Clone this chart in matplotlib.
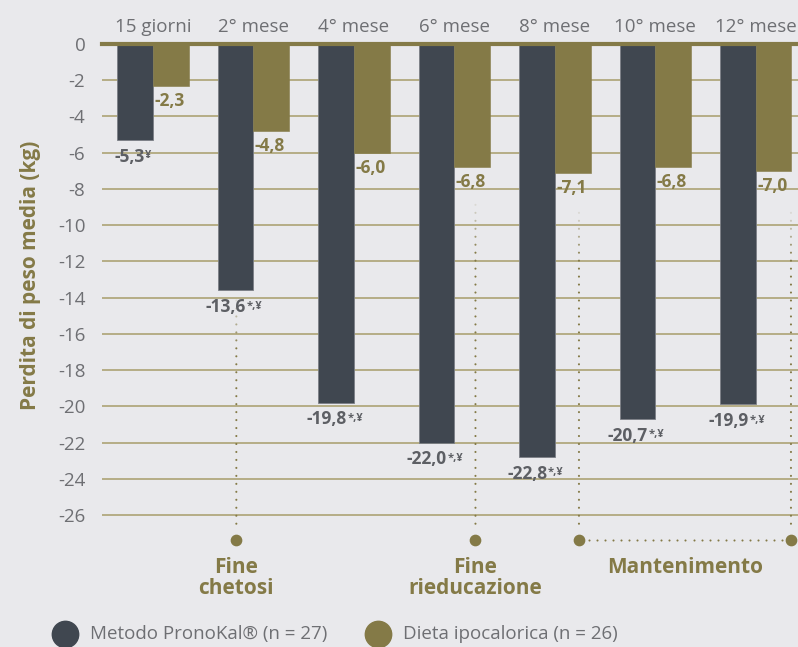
import numpy as np
import matplotlib.pyplot as plt
from matplotlib.lines import Line2D

plt.rcParams['font.family'] = ['Open Sans', 'DejaVu Sans']
plt.rcParams['axes.unicode_minus'] = False

# ---- data ----
periods = ["15 giorni", "2° mese", "4° mese", "6° mese", "8° mese", "10° mese", "12° mese"]
pronokal = [-5.3, -13.6, -19.8, -22.0, -22.8, -20.7, -19.9]
ipocalorica = [-2.3, -4.8, -6.0, -6.8, -7.1, -6.8, -7.0]
pronokal_marks = ["¥", "*,¥", "*,¥", "*,¥", "*,¥", "*,¥", "*,¥"]
y_ticks = list(range(0, -27, -2))

# phase markers: (x position, top of dotted line)
phase_lines = [(0.83, -13.8), (3.21, -8.6), (4.24, -9.3), (6.35, -9.3)]
phase_labels = [("Fine\nchetosi", 0.83), ("Fine\nrieducazione", 3.21), ("Mantenimento", 5.295)]

# ---- style ----
BG = "#e9e9ec"
DARK = "#404750"
GOLD = "#847a47"
GRID = "#b1a87e"
GREY = "#6e6f73"
GREY_LBL = "#5d5f64"

fig = plt.figure(figsize=(7.98, 6.47), dpi=100, facecolor=BG)
ax = fig.add_axes([102 / 798, 1 - 540 / 647, 696 / 798, 496 / 647])
ax.set_facecolor(BG)

x = np.arange(len(periods))
w = 0.355
y_bottom = -27.38

# gridlines
for t in y_ticks[1:]:
    ax.axhline(t, color=GRID, lw=1.3, zorder=1)

ax.bar(x - w / 2, pronokal, w, color=DARK, edgecolor="#7b7f86", linewidth=0.6, zorder=2)
ax.bar(x + w / 2, ipocalorica, w, color=GOLD, edgecolor=GOLD, linewidth=0.4, zorder=2)

# zero line
ax.axhline(0, color=GOLD, lw=3, zorder=4, clip_on=False)

# axes
ax.set_xlim(-0.507, 6.42)
ax.set_ylim(y_bottom, 0)
ax.set_yticks(y_ticks)
ax.set_yticklabels([str(t) for t in y_ticks], fontsize=13.5, color=GREY)
ax.tick_params(axis="y", length=0, pad=12)
ax.xaxis.tick_top()
ax.set_xticks(x)
ax.set_xticklabels(periods, fontsize=13.5, color=GREY)
ax.tick_params(axis="x", length=0, pad=6)
for s in ax.spines.values():
    s.set_visible(False)

# value labels (main number + small superscript marks)
renderer = fig.canvas.get_renderer()
for xi, v, m in zip(x, pronokal, pronokal_marks):
    shift = -4 if len(m) == 1 else -7
    main = ax.annotate(f"{v:.1f}".replace(".", ","), (xi - w / 2, v),
                       xytext=(shift, -12), textcoords="offset points",
                       ha="center", va="center", fontsize=12.5, fontweight="bold",
                       color=GREY_LBL, zorder=6)
    bb = main.get_window_extent(renderer)
    fig.text(bb.x1 / fig.bbox.width + 0.001, bb.y1 / fig.bbox.height - 0.004, m,
             ha="left", va="top", fontsize=8, fontweight="bold", color=GREY_LBL,
             zorder=6)
for xi, v in zip(x, ipocalorica):
    ax.annotate(f"{v:.1f}".replace(".", ","), (xi, v), xytext=(1, -11),
                textcoords="offset points", ha="left", va="center",
                fontsize=12.5, fontweight="bold", color=GOLD, zorder=6)

# dotted phase lines, fading in at the top
step = 0.44
for px, top in phase_lines:
    ys = np.arange(y_bottom + 0.9, top, step)
    alphas = np.ones(len(ys))
    fade = min(6, len(ys))
    alphas[-fade:] = np.linspace(0.85, 0.15, fade)
    colors = [(0.518, 0.478, 0.278, a) for a in alphas]
    ax.scatter(np.full(len(ys), px), ys, s=2.2, c=colors, linewidths=0,
               zorder=3, clip_on=False)
    ax.scatter([px], [y_bottom], s=55, color=GOLD, zorder=5, clip_on=False)

# horizontal dotted span for maintenance
xs = np.arange(4.24 + 0.1, 6.35 - 0.05, 0.08)
ax.scatter(xs, np.full(len(xs), y_bottom), s=2.2, color=GOLD, linewidths=0,
           zorder=3, clip_on=False)

for label, px in phase_labels:
    ax.text(px, -28.3, label, ha="center", va="top", fontsize=15,
            fontweight="bold", color=GOLD, linespacing=1.0)

fig.text(0.038, 1 - 275 / 647, "Perdita di peso media (kg)", rotation=90,
         ha="center", va="center", fontsize=15, fontweight="bold", color=GOLD)

# legend
leg_y = 1 - 634 / 647
for cx, col, label in [(65, DARK, "Metodo PronoKal® (n = 27)"),
                       (378, GOLD, "Dieta ipocalorica (n = 26)")]:
    fig.add_artist(Line2D([cx / 798], [leg_y], marker="o", markersize=19,
                          color=col, linestyle="none", transform=fig.transFigure))
    fig.text((cx + 25) / 798, leg_y, label, ha="left", va="center",
             fontsize=13.5, color=GREY)

fig.savefig("out.png", dpi=100, facecolor=BG)
